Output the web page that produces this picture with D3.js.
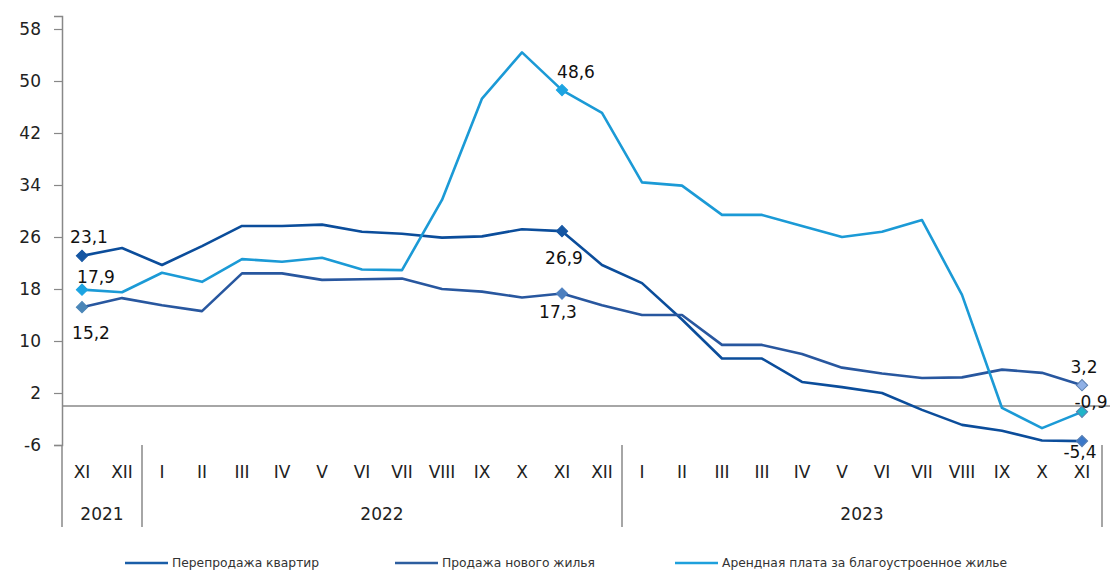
<!DOCTYPE html>
<html><head><meta charset="utf-8">
<script src="https://cdn.jsdelivr.net/npm/d3@7"></script>
<style>
body{margin:0;background:#fff;}
svg{display:block;font-family:"DejaVu Sans",Verdana,sans-serif;}
</style></head>
<body><svg id="c" width="1120" height="584"></svg>
<script>
const months = ["XI","XII","I","II","III","IV","V","VI","VII","VIII","IX","X","XI","XII","I","II","III","III","IV","V","VI","VII","VIII","IX","X","XI"];
const years = [{label:"2021", start:0, end:2},{label:"2022", start:2, end:14},{label:"2023", start:14, end:26}];
const yTicks = [-6,2,10,18,26,34,42,50,58];
const resale = [23.1,24.3,21.7,24.6,27.7,27.7,27.9,26.8,26.5,25.9,26.1,27.2,26.9,21.7,18.9,13.3,7.3,7.3,3.7,2.9,2.0,-0.6,-2.9,-3.8,-5.3,-5.4];
const newHousing = [15.2,16.6,15.5,14.6,20.4,20.4,19.4,19.5,19.6,18.0,17.6,16.7,17.3,15.5,14.0,14.0,9.4,9.4,8.0,5.9,5.0,4.3,4.4,5.6,5.1,3.2];
const rental = [17.9,17.5,20.5,19.1,22.6,22.2,22.8,21.0,20.9,31.7,47.3,54.4,48.6,45.1,34.4,33.9,29.4,29.4,27.7,26.0,26.8,28.6,17.1,-0.3,-3.4,-0.9];
const seriesNames = ["Перепродажа квартир","Продажа нового жилья","Арендная плата за благоустроенное жилье"];
const labelIdx = [0,12,25];

const series = [
  {name:seriesNames[0], values:resale, color:"#0b4d9b", legend:"#1a5ea8",
   markers:["#1556a3","#1556a3","#3b78c8"], labels:[{dx:7,dy:-13},{dx:2,dy:33},{dx:-2,dy:17}]},
  {name:seriesNames[1], values:newHousing, color:"#28579f", legend:"#2d5e9f",
   markers:["#4a86b8","#4d7fbf","#8fb0e6"], labels:[{dx:9,dy:32},{dx:-4,dy:24},{dx:2,dy:-12}]},
  {name:seriesNames[2], values:rental, color:"#1b9ad6", legend:"#1ea0dc",
   markers:["#1ca4e2","#1ca4e2","#20b4c8"], labels:[{dx:14,dy:-7},{dx:14,dy:-12},{dx:9,dy:-4}]}
];

const svg = d3.select("#c");
const x = d3.scaleBand().domain(d3.range(months.length)).range([62,1102]);
const cx = i => x(i) + x.bandwidth()/2;
const y = d3.scaleLinear().domain([-6,60]).range([445,16]);

// Y axis
const yAxis = svg.append("g").attr("transform","translate(62,0)")
  .call(d3.axisLeft(y).tickValues(yTicks).tickSize(8).tickPadding(13).tickFormat(d=>d));
yAxis.select(".domain").attr("stroke","#888").attr("stroke-width",1.5);
yAxis.selectAll(".tick line").attr("stroke","#888").attr("stroke-width",1.2);
yAxis.selectAll(".tick text").attr("font-size",17).attr("fill","#222").attr("font-family","DejaVu Sans, Verdana, sans-serif");
svg.append("line").attr("x1",62).attr("x2",62).attr("y1",445).attr("y2",527).attr("stroke","#888").attr("stroke-width",1.5);

// zero line
svg.append("line").attr("x1",62).attr("x2",1110).attr("y1",y(0)).attr("y2",y(0)).attr("stroke","#888").attr("stroke-width",1.5);

// category labels
svg.append("g").selectAll("text").data(months).join("text")
  .attr("x",(d,i)=>cx(i)).attr("y",478).attr("text-anchor","middle")
  .attr("font-size",17).attr("fill","#222").text(d=>d);
// year separators & labels
years.forEach(yr=>{
  const xe = x(yr.end-1)+x.bandwidth();
  svg.append("line").attr("x1",xe).attr("x2",xe).attr("y1",445).attr("y2",527).attr("stroke","#888").attr("stroke-width",1.5);
  svg.append("text").attr("x",(x(yr.start)+xe)/2).attr("y",520).attr("text-anchor","middle")
    .attr("font-size",17).attr("fill","#222").text(yr.label);
});

// lines
const line = d3.line().x((d,i)=>cx(i)).y(d=>y(d));
series.forEach(s=>{
  svg.append("path").datum(s.values).attr("d",line).attr("fill","none")
    .attr("stroke",s.color).attr("stroke-width",2.6).attr("stroke-linejoin","round");
});
// markers & labels
series.forEach(s=>{
  labelIdx.forEach((idx,k)=>{
    const px = cx(idx), py = y(s.values[idx]);
    svg.append("path").attr("d",d3.symbol(d3.symbolSquare,64)())
      .attr("transform",`translate(${px},${py}) rotate(45)`)
      .attr("fill",s.markers[k]).attr("stroke",k===2?"#5a7fb0":s.markers[k]).attr("stroke-width",1);
    svg.append("text").attr("x",px+s.labels[k].dx).attr("y",py+s.labels[k].dy)
      .attr("text-anchor","middle").attr("font-size",17).attr("fill","#111")
      .text(String(s.values[idx]).replace(".",","));
  });
});

// legend
const legendPos = [125,395,675];
series.forEach((s,i)=>{
  const lx = legendPos[i];
  svg.append("line").attr("x1",lx).attr("x2",lx+43).attr("y1",563).attr("y2",563)
    .attr("stroke",s.legend).attr("stroke-width",2.6);
  svg.append("text").attr("x",lx+47).attr("y",567).attr("font-size",12.3).attr("fill","#333").text(s.name);
});
</script></body></html>
